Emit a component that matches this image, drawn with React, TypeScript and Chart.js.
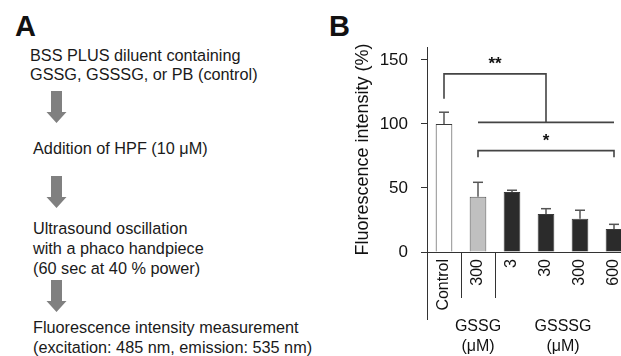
import React, { useEffect, useRef } from 'react';
import { Chart, registerables } from 'chart.js';

Chart.register(...registerables);

// ---- data ----
const categories = ['Control', '300', '3', '30', '300', '600'];
const meanValues = [100, 43.2, 46.8, 29.7, 26.0, 18.0];
const sdValues = [9.1, 11.2, 1.4, 4.1, 6.6, 3.6];
const yTickValues = [0, 50, 100, 150];
const groupNames = ['GSSG', 'GSSSG'];
const groupUnits = ['(μM)', '(μM)'];
const groupStart = [1, 2];
const groupEnd = [1, 5];
const separatorIndices = [0.5, 1.5];
const sigLabels = ['**', '*'];
// '**' bracket: top line, left drop end, long lower line level
const doubleStarLevels = [139, 119.7, 101.2];
// '*' bracket: line level, end tick bottoms
const singleStarLevels = [79.1, 73.9];

// ---- styles ----
const FONT = '"Liberation Sans", Arial, Helvetica, sans-serif';
const barFill = ['#ffffff', '#c0c0c0', '#2b2b2b', '#2b2b2b', '#2b2b2b', '#2b2b2b'];
const barBorder = ['#3a3a3a', '#555555', '#3a3a3a', '#3a3a3a', '#3a3a3a', '#3a3a3a'];

const annotatePlugin = {
  id: 'annotate',
  afterDraw(chart: any) {
    const { ctx, chartArea } = chart;
    const x = chart.scales.x;
    const y = chart.scales.y;
    const line = (x1: number, y1: number, x2: number, y2: number) => {
      ctx.beginPath();
      ctx.moveTo(x1, y1);
      ctx.lineTo(x2, y2);
      ctx.stroke();
    };
    ctx.save();
    // error bars (upper only)
    ctx.strokeStyle = '#555555';
    ctx.lineWidth = 1.5;
    meanValues.forEach((m, i) => {
      const px = x.getPixelForValue(i);
      const y0 = y.getPixelForValue(m);
      const y1 = y.getPixelForValue(m + sdValues[i]);
      line(px, y0, px, y1);
      line(px - 5, y1, px + 5, y1);
    });

    // significance brackets
    ctx.strokeStyle = '#444444';
    ctx.lineWidth = 1.6;
    const xl = x.getPixelForValue(0);
    const xa = x.getPixelForValue(1);
    const xb = x.getPixelForValue(5);
    const xm = (xa + xb) / 2;
    const yTop = y.getPixelForValue(doubleStarLevels[0]);
    const yLeft = y.getPixelForValue(doubleStarLevels[1]);
    const yLong = y.getPixelForValue(doubleStarLevels[2]);
    ctx.beginPath();
    ctx.moveTo(xl, yLeft);
    ctx.lineTo(xl, yTop);
    ctx.lineTo(xm, yTop);
    ctx.lineTo(xm, yLong);
    ctx.stroke();
    line(xa, yLong, xb, yLong);
    const yS = y.getPixelForValue(singleStarLevels[0]);
    const yST = y.getPixelForValue(singleStarLevels[1]);
    ctx.beginPath();
    ctx.moveTo(xa, yST);
    ctx.lineTo(xa, yS);
    ctx.lineTo(xb, yS);
    ctx.lineTo(xb, yST);
    ctx.stroke();

    ctx.fillStyle = '#111111';
    ctx.font = `bold 17px ${FONT}`;
    ctx.textAlign = 'center';
    ctx.textBaseline = 'bottom';
    ctx.fillText(sigLabels[0], (xl + xm) / 2, yTop - 1);
    ctx.fillText(sigLabels[1], xm, yS - 1);

    // below-axis structure
    ctx.strokeStyle = '#333333';
    ctx.lineWidth = 1;
    const left = Math.round(chartArea.left) + 0.5;
    line(left, chartArea.bottom, left, chartArea.bottom + 68);
    separatorIndices.forEach((s) => {
      const sx = Math.round(x.getPixelForValue(s)) + 0.5;
      line(sx, chartArea.bottom, sx, chartArea.bottom + 46);
    });

    // group labels
    ctx.font = `16px ${FONT}`;
    ctx.textBaseline = 'middle';
    groupNames.forEach((g, i) => {
      const cx = (x.getPixelForValue(groupStart[i]) + x.getPixelForValue(groupEnd[i])) / 2;
      ctx.fillText(g, cx, chartArea.bottom + 75);
      ctx.fillText(groupUnits[i], cx, chartArea.bottom + 95);
    });
    ctx.restore();
  },
};

function BarChart() {
  const ref = useRef<HTMLCanvasElement | null>(null);
  useEffect(() => {
    if (!ref.current) return;
    const chart = new Chart(ref.current, {
      type: 'bar',
      data: {
        labels: categories,
        datasets: [
          {
            data: meanValues,
            backgroundColor: barFill,
            borderColor: barBorder,
            borderWidth: 1,
            barPercentage: 0.49,
            categoryPercentage: 1,
          },
        ],
      },
      options: {
        animation: false,
        responsive: false,
        events: [],
        layout: { padding: { left: 0, right: 9, top: 47, bottom: 0 } },
        plugins: { legend: { display: false }, tooltip: { enabled: false }, title: { display: false } },
        scales: {
          x: {
            type: 'category',
            offset: true,
            grid: { display: false, drawTicks: false },
            border: { display: true, color: '#333333', width: 1 },
            ticks: {
              autoSkip: false,
              minRotation: 90,
              maxRotation: 90,
              padding: 7,
              color: '#111111',
              font: { family: FONT, size: 16 },
            },
            afterFit: (s: any) => {
              s.height = 104;
              s.paddingLeft = 0;
              s.paddingRight = 0;
            },
          },
          y: {
            min: 0,
            max: 160,
            grid: { drawOnChartArea: false, drawTicks: true, tickLength: 6, tickColor: '#333333' },
            border: { display: true, color: '#333333', width: 1 },
            ticks: {
              stepSize: 50,
              padding: 13,
              color: '#111111',
              font: { family: FONT, size: 17 },
            },
            afterBuildTicks: (s: any) => {
              s.ticks = yTickValues.map((v) => ({ value: v }));
            },
            title: {
              display: true,
              text: 'Fluorescence intensity (%)',
              color: '#111111',
              font: { family: FONT, size: 18 },
              padding: { top: 12, bottom: 0 },
            },
            afterFit: (s: any) => {
              s.width = 87;
              s.paddingTop = 0;
              s.paddingBottom = 0;
            },
          },
        },
      },
      plugins: [annotatePlugin],
    });
    return () => chart.destroy();
  }, []);
  return <canvas ref={ref} width={300} height={356} style={{ width: 300, height: 356, display: 'block' }} />;
}

const Arrow = ({ top }: { top: number }) => (
  <svg style={{ position: 'absolute', left: 46, top, overflow: 'visible' }} width={21} height={32}>
    <polygon points="5,0 16,0 16,21 20.5,21 10.5,32 0.5,21 5,21" fill="#808080" />
  </svg>
);

const textStyle = (left: number, top: number, lh: number): React.CSSProperties => ({
  position: 'absolute',
  left,
  top,
  lineHeight: `${lh}px`,
  fontSize: 16.25,
  whiteSpace: 'nowrap',
  color: '#1a1a1a',
});

export default function App() {
  return (
    <div
      style={{
        position: 'fixed',
        left: 0,
        top: 0,
        width: 621,
        height: 356,
        overflow: 'hidden',
        background: '#ffffff',
        fontFamily: FONT,
      }}
    >
      <div style={{ position: 'absolute', left: 15, top: 12, fontSize: 29, lineHeight: '29px', fontWeight: 'bold', color: '#111' }}>A</div>
      <div style={{ position: 'absolute', left: 329, top: 12, fontSize: 29, lineHeight: '29px', fontWeight: 'bold', color: '#111' }}>B</div>

      <div style={textStyle(30, 46, 19)}>
        BSS PLUS diluent containing
        <br />
        GSSG, GSSSG, or PB (control)
      </div>
      <Arrow top={91} />
      <div style={textStyle(33, 138, 20)}>Addition of HPF (10 μM)</div>
      <Arrow top={176} />
      <div style={textStyle(33, 218, 20)}>
        Ultrasound oscillation
        <br />
        with a phaco handpiece
        <br />
        (60 sec at 40 % power)
      </div>
      <Arrow top={280} />
      <div style={textStyle(33, 318, 19.5)}>
        Fluorescence intensity measurement
        <br />
        (excitation: 485 nm, emission: 535 nm)
      </div>

      <div style={{ position: 'absolute', left: 340, top: 0, width: 300, height: 356 }}>
        <BarChart />
      </div>
    </div>
  );
}
